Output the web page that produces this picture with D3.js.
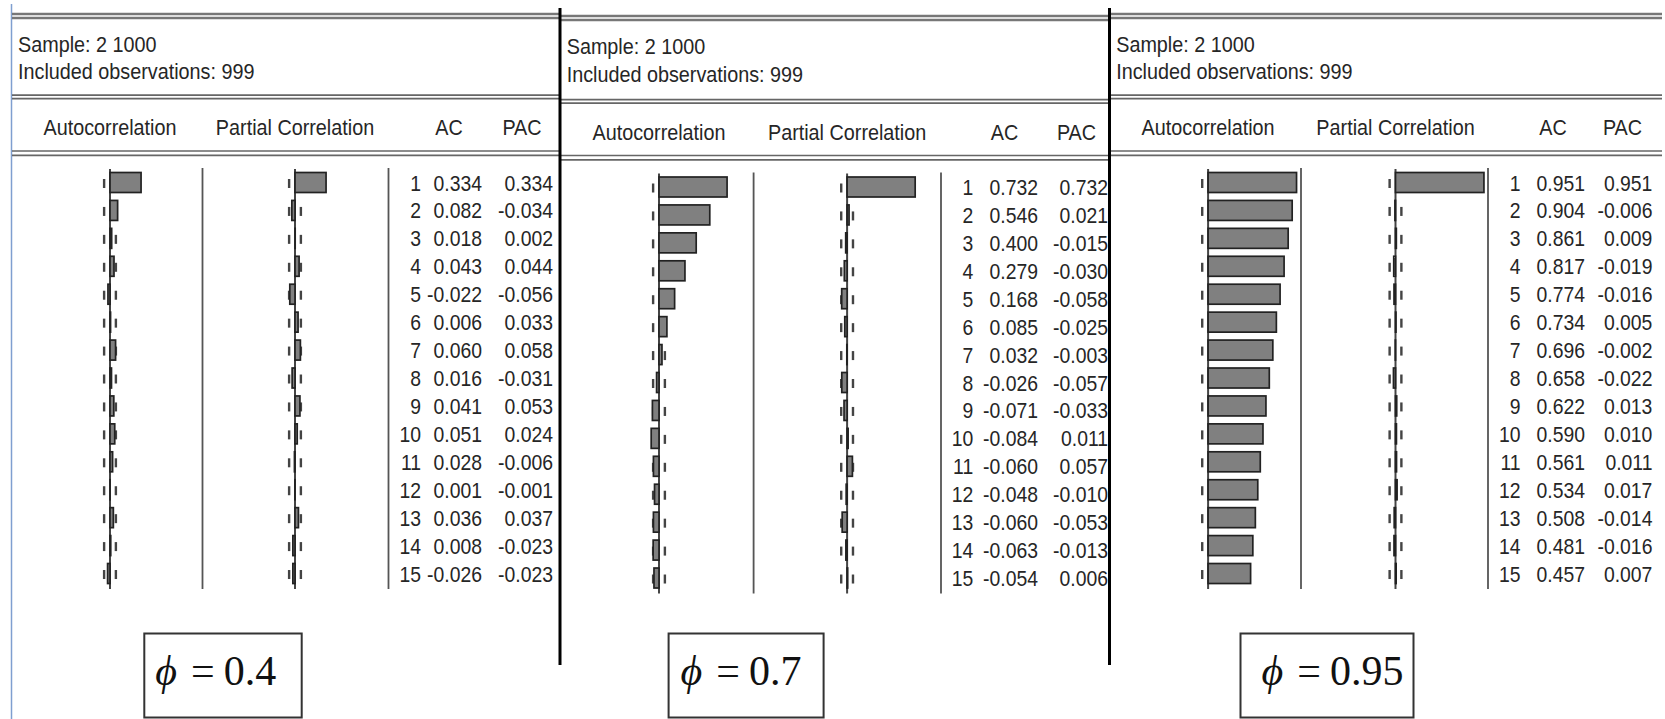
<!DOCTYPE html>
<html>
<head>
<meta charset="utf-8">
<script src="https://cdn.jsdelivr.net/npm/d3@7"></script>
<style>
  html, body { margin: 0; padding: 0; background: #fff; }
  svg { display: block; }
</style>
</head>
<body>
<svg id="chart" width="1665" height="719"></svg>
<script>
// ---- Correlogram values for three simulated AR(1) series ----
const lags = [1, 2, 3, 4, 5, 6, 7, 8, 9, 10, 11, 12, 13, 14, 15];

const acPhi04  = [0.334, 0.082, 0.018, 0.043, -0.022, 0.006, 0.060, 0.016, 0.041, 0.051, 0.028, 0.001, 0.036, 0.008, -0.026];
const pacPhi04 = [0.334, -0.034, 0.002, 0.044, -0.056, 0.033, 0.058, -0.031, 0.053, 0.024, -0.006, -0.001, 0.037, -0.023, -0.023];

const acPhi07  = [0.732, 0.546, 0.400, 0.279, 0.168, 0.085, 0.032, -0.026, -0.071, -0.084, -0.060, -0.048, -0.060, -0.063, -0.054];
const pacPhi07 = [0.732, 0.021, -0.015, -0.030, -0.058, -0.025, -0.003, -0.057, -0.033, 0.011, 0.057, -0.010, -0.053, -0.013, 0.006];

const acPhi095  = [0.951, 0.904, 0.861, 0.817, 0.774, 0.734, 0.696, 0.658, 0.622, 0.590, 0.561, 0.534, 0.508, 0.481, 0.457];
const pacPhi095 = [0.951, -0.006, 0.009, -0.019, -0.016, 0.005, -0.002, -0.022, 0.013, 0.010, 0.011, 0.017, -0.014, -0.016, 0.007];

const phiLabels = ["0.4", "0.7", "0.95"];
const sampleLabel = "Sample: 2 1000";
const obsCount = 999;
const obsLabel = "Included observations: " + obsCount;
const columnHeaders = ["Autocorrelation", "Partial Correlation", "AC", "PAC"];

const series = [
  { phi: phiLabels[0], ac: acPhi04,  pac: pacPhi04 },
  { phi: phiLabels[1], ac: acPhi07,  pac: pacPhi07 },
  { phi: phiLabels[2], ac: acPhi095, pac: pacPhi095 }
];

// ---- Panel geometry (EViews-style correlogram tables) ----
const layouts = [
  { x0: 12,   x1: 560,  dy: 0,   topDy: 0, acfZero: 110,    sep1: 202.5, pacfZero: 295,    sep2: 388.5, lagR: 421,    acR: 482,    pacR: 553,    acHead: 449,    pacHead: 522,    textX: 18,     boxX0: 144.3,  boxX1: 301.7,  phiPad: 11 },
  { x0: 560,  x1: 1109, dy: 4.5, topDy: 2, acfZero: 659,    sep1: 753.6, pacfZero: 847.1,  sep2: 941,   lagR: 973.2,  acR: 1038,   pacR: 1108,   acHead: 1004.5, pacHead: 1076.5, textX: 566.7,  boxX0: 668.6,  boxX1: 823.6,  phiPad: 12 },
  { x0: 1109, x1: 1662, dy: 0,   topDy: 0, acfZero: 1208.1, sep1: 1301,  pacfZero: 1395.5, sep2: 1488,  lagR: 1520.5, acR: 1585,   pacR: 1652.4, acHead: 1553,   pacHead: 1622.5, textX: 1116.2, boxX0: 1240.5, boxX1: 1413.5, phiPad: 21 }
];

const rowTop = 182.5, rowStep = 27.93, barH = 20, unitPx = 93;
const lineTop = 169, lineBottom = 589;
const bound = 2 / Math.sqrt(obsCount);

const fmt = d3.formatLocale({ decimal: ".", thousands: ",", grouping: [3], currency: ["", ""], minus: "-" }).format(".3f");

const svg = d3.select("#chart");
const FONT = "'Liberation Sans', Arial, sans-serif";
const INK = "#262626";

// squeezed sans text, as in the table output
function label(g, x, y, txt, size, anchor, sx) {
  g.append("g")
    .attr("transform", `translate(${x},${y})`)
    .append("text")
    .attr("transform", `scale(${sx},1)`)
    .attr("text-anchor", anchor)
    .attr("font-family", FONT)
    .attr("font-size", size)
    .attr("fill", INK)
    .text(txt);
}

function hline(g, x0, x1, y, w, c) {
  g.append("line").attr("x1", x0).attr("x2", x1).attr("y1", y).attr("y2", y)
    .attr("stroke", c).attr("stroke-width", w);
}
function vline(g, x, y0, y1, w, c) {
  g.append("line").attr("x1", x).attr("x2", x).attr("y1", y0).attr("y2", y1)
    .attr("stroke", c).attr("stroke-width", w);
}

// left window edge
vline(svg, 11.5, 4, 719, 1.5, "#7f9fd0");

series.forEach((s, i) => {
  const L = layouts[i];
  const g = svg.append("g").attr("class", "panel");
  const dy = L.dy;

  // header rules
  hline(g, L.x0, L.x1, 14 + L.topDy, 2.5, "#777");
  hline(g, L.x0, L.x1, 18 + L.topDy, 2.5, "#777");
  hline(g, L.x0, L.x1, 95.2 + dy, 1.7, "#666");
  hline(g, L.x0, L.x1, 98.6 + dy, 1.7, "#666");
  hline(g, L.x0, L.x1, 151 + dy, 1.7, "#666");
  hline(g, L.x0, L.x1, 155.3 + dy, 1.7, "#666");

  label(g, L.textX, 51.7 + dy * 0.4, sampleLabel, 22, "start", 0.9);
  label(g, L.textX, 79 + dy * 0.6, obsLabel, 22, "start", 0.9);

  label(g, L.acfZero, 135 + dy, columnHeaders[0], 22, "middle", 0.9);
  label(g, L.pacfZero, 135 + dy, columnHeaders[1], 22, "middle", 0.9);
  label(g, L.acHead, 135 + dy, columnHeaders[2], 22, "middle", 0.9);
  label(g, L.pacHead, 135 + dy, columnHeaders[3], 22, "middle", 0.9);

  const y = d3.scalePoint().domain(lags).range([rowTop + dy, rowTop + dy + (lags.length - 1) * rowStep]);
  const xA = d3.scaleLinear().domain([-1, 1]).range([L.acfZero - unitPx, L.acfZero + unitPx]);
  const xP = d3.scaleLinear().domain([-1, 1]).range([L.pacfZero - unitPx, L.pacfZero + unitPx]);

  // column rules
  vline(g, L.sep1, lineTop - 1 + dy, lineBottom + dy, 1.8, "#555");
  vline(g, L.sep2, lineTop - 1 + dy, lineBottom + dy, 1.8, "#555");

  [[xA, s.ac], [xP, s.pac]].forEach(([x, vals]) => {
    // zero axis
    vline(g, x(0), lineTop + dy, lineBottom + dy, 2, "#444");
    // +/- 2 s.e. marks
    lags.forEach(l => {
      [-bound, bound].forEach(b => {
        g.append("rect")
          .attr("x", x(b) - 1.2).attr("y", y(l) - 3.5)
          .attr("width", 2.4).attr("height", 9)
          .attr("fill", "#444");
      });
    });
    // bars
    g.selectAll(null).data(lags).join("rect")
      .attr("x", (l, k) => Math.min(x(0), x(vals[k])))
      .attr("y", l => y(l) - barH / 2)
      .attr("width", (l, k) => Math.abs(x(vals[k]) - x(0)))
      .attr("height", barH)
      .attr("fill", "#808080")
      .attr("stroke", "#222")
      .attr("stroke-width", 1.7);
  });

  // lag, AC and PAC columns
  lags.forEach((l, k) => {
    const by = y(l) + 8;
    label(g, L.lagR, by, String(l), 22, "end", 0.88);
    label(g, L.acR, by, fmt(s.ac[k]), 22, "end", 0.88);
    label(g, L.pacR, by, fmt(s.pac[k]), 22, "end", 0.88);
  });

  // parameter box
  g.append("rect")
    .attr("x", L.boxX0).attr("y", 633.5)
    .attr("width", L.boxX1 - L.boxX0).attr("height", 84)
    .attr("fill", "#fff").attr("stroke", "#333").attr("stroke-width", 2);
  const t = g.append("text")
    .attr("x", L.boxX0 + L.phiPad).attr("y", 685)
    .attr("font-family", "'Liberation Serif', 'Times New Roman', 'DejaVu Serif', serif")
    .attr("font-size", 42).attr("fill", "#111");
  t.append("tspan").attr("font-style", "italic").text("\u03D5");
  t.append("tspan").attr("dx", 14).text("=");
  t.append("tspan").attr("dx", 9).text(s.phi);
});

// window dividers between the three outputs
vline(svg, 560, 8, 665, 3, "#000");
vline(svg, 1109.5, 8, 665, 3, "#000");
</script>
</body>
</html>
